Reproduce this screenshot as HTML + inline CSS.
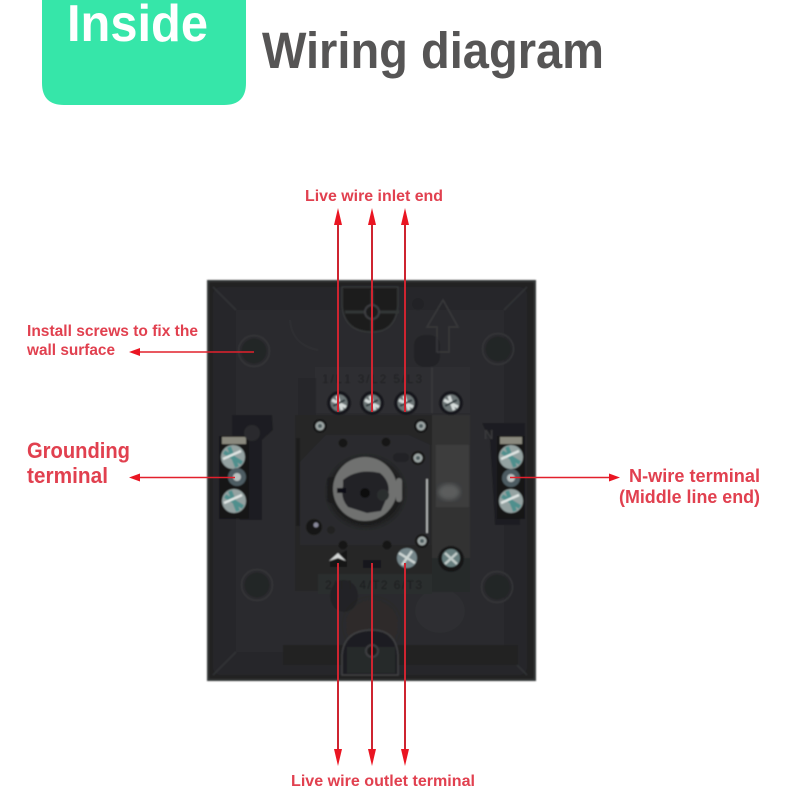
<!DOCTYPE html>
<html><head><meta charset="utf-8"><style>
html,body{margin:0;padding:0;background:#fff}
svg{display:block}
text{font-family:"Liberation Sans",sans-serif;font-weight:bold}
.r{fill:#e1404f}
</style></head><body>
<svg width="800" height="800" viewBox="0 0 800 800" xmlns="http://www.w3.org/2000/svg">
<defs>
<filter id="b"><feGaussianBlur stdDeviation="0.7"/></filter>
<filter id="b2"><feGaussianBlur stdDeviation="2"/></filter>
<filter id="t"><feGaussianBlur stdDeviation="0.3"/></filter>
<g id="s"><circle r="12" fill="#17181a"/><circle r="8.500" fill="#6d7677"/><path d="M-7-3L7 4M-2-7L3 7" stroke="#d5dbda" stroke-width="3"/><path d="M-6 3L6-3" stroke="#2e3a3c" stroke-width="2"/></g>
<g id="m"><circle r="7" fill="#131415"/><circle r="4.500" fill="#9da6a5"/><circle r="2" fill="#4f5d5f"/></g>
<g id="T"><circle r="12" fill="#94a2a1"/><path d="M-9-5L9 6M-4-10L4 10" stroke="#4f8f8d" stroke-width="4"/><path d="M-10 2L8-6" stroke="#dfe5e3" stroke-width="2.500"/></g>
<g id="h"><circle r="15.500" fill="none" stroke="#343537" stroke-width="1.500"/><circle r="12.500" fill="#242527"/></g>
</defs>

<rect width="800" height="800" fill="#fff"/>
<path d="M42 0H246V83Q246 105 224 105H64Q42 105 42 83Z" fill="#36e6a9"/>
<text x="67" y="41" font-size="52" fill="#fff" textLength="141" lengthAdjust="spacingAndGlyphs" filter="url(#t)">Inside</text>
<text x="262" y="68" font-size="51" fill="#565555" textLength="342" lengthAdjust="spacingAndGlyphs" filter="url(#t)">Wiring diagram</text>

<!-- housing -->
<g filter="url(#b)">
<rect x="207" y="280" width="329" height="401" fill="#333436"/>
<rect x="209" y="282" width="325" height="397" rx="2" fill="#202123"/>
<rect x="213" y="287" width="314" height="388" rx="8" fill="#27282a"/>
<rect x="236" y="310" width="268" height="342" fill="#2a2b2d"/>
<path d="M213 287L236 310M527 287L504 310M213 675L236 652M527 675L504 652" stroke="#333436" stroke-width="1.500"/>
<rect x="283" y="645" width="235" height="20" fill="#212224"/>
<!-- top notch -->
<path d="M342 287V305Q344 332 372 332Q396 332 398 305V287Z" fill="#1c1d1f" stroke="#363739" stroke-width="1.500"/>
<path d="M345 312H399M372 290V331" stroke="#333436" stroke-width="3"/>
<circle cx="372" cy="312" r="7" fill="#1c1d1f" stroke="#3c3d40" stroke-width="2"/>
<!-- bottom notch -->
<ellipse cx="372" cy="625" rx="26" ry="25" fill="#2f2c2b" filter="url(#b2)"/>
<path d="M342 675V655Q344 630 372 630Q396 630 398 655V675Z" fill="#1e1f21" stroke="#404143" stroke-width="1.500"/>
<rect x="347" y="647" width="48" height="26" fill="#28292b"/>
<circle cx="372" cy="651" r="6" fill="#1c1d1f" stroke="#3c3d40" stroke-width="2"/>
<!-- holes -->
<use href="#h" x="254" y="351"/><use href="#h" x="498" y="349"/>
<use href="#h" x="257" y="585"/><use href="#h" x="497" y="587"/>
<circle cx="418" cy="304" r="6" fill="#232426"/>
<path d="M290 320Q292 345 318 350" fill="none" stroke="#333436"/>
<rect x="414" y="335" width="26" height="32" rx="10" fill="#232426"/>
<path d="M443 300L427 327H437V352H449V327H458Z" fill="none" stroke="#38393b" stroke-width="1.500"/>
<ellipse cx="440" cy="611" rx="25" ry="22" fill="#2d2e30"/>
<!-- upper plate -->
<rect x="315" y="367" width="155" height="46" fill="#2e2f31"/>
<rect x="298" y="378" width="18" height="40" fill="#27282a"/>
<path d="M432 367V413" stroke="#3d3e40"/>
<text x="322" y="383" font-size="12" fill="#1e1f20" textLength="100" style="font-weight:normal">1/L1 3/L2 5/L3</text>
<!-- central plate -->
<rect x="295" y="415" width="175" height="176" fill="#252628"/>
<rect x="432" y="415" width="38" height="177" fill="#303133"/>
<rect x="436" y="445" width="33" height="62" fill="#3c3d3e"/>
<ellipse cx="449" cy="492" rx="11" ry="8" fill="#5c5d5d" filter="url(#b2)"/>
<rect x="432" y="558" width="38" height="34" fill="#28292b"/>
<path d="M300 462L326 435H408L430 445V545H300Z" fill="#2b2c2e"/>
<rect x="296" y="438" width="4" height="88" fill="#1c1d1f"/>
<path d="M427 479V533" stroke="#c9cbca" stroke-width="1.500"/>
<rect x="318" y="574" width="114" height="20" fill="#2c2d2f"/>
<text x="325" y="589" font-size="12" fill="#191a1b" textLength="97" style="font-weight:normal">2/T1 4/T2 6/T3</text>
<ellipse cx="344" cy="596" rx="14" ry="16" fill="#212223" opacity=".8"/>
<circle cx="343" cy="443" r="4.500" fill="#161718"/><circle cx="386" cy="442" r="4.500" fill="#161718"/>
<circle cx="343" cy="545" r="4.500" fill="#161718"/><circle cx="387" cy="545" r="4.500" fill="#161718"/>
<rect x="393" y="453" width="16" height="9" rx="4" fill="#232425"/>
<circle cx="331" cy="530" r="4" fill="#212223"/>
<!-- knob -->
<rect x="327" y="477" width="20" height="26" rx="3" fill="#1d1e20"/>
<ellipse cx="366" cy="492" rx="38" ry="35" fill="#1a1b1d" filter="url(#b2)"/>
<ellipse cx="365" cy="489" rx="32" ry="32" fill="#6f7170"/>
<rect x="396" y="478" width="6" height="24" rx="3" fill="#6f7170"/>
<path d="M343 480Q358 468 380 473Q391 482 388 495L381 511L367 513L348 507Q340 498 343 486Z" fill="#232426"/>
<rect x="337" y="488" width="9" height="5" fill="#101112"/>
<circle cx="365" cy="493" r="5" fill="#0f1011"/>
<circle cx="383" cy="495" r="6" fill="#2c2d2f"/>
<!-- top screws -->
<use href="#s" x="339" y="403"/><use href="#s" x="372" y="403"/><use href="#s" x="406" y="403"/><use href="#s" x="451" y="403"/>
<use href="#m" x="320" y="426"/><use href="#m" x="421" y="426"/><use href="#m" x="418" y="458"/>
<circle cx="314" cy="527" r="8" fill="#121314"/><circle cx="316" cy="525" r="2.500" fill="#889"/>
<use href="#m" x="422" y="541"/>
<!-- bottom screws -->
<path d="M330 560L347 550V567H330Z" fill="#141516"/>
<path d="M329 561L338 553L346 561L338 558Z" fill="#d5d8d7"/>
<rect x="363" y="560" width="18" height="8" fill="#18191a"/>
<circle cx="407" cy="558" r="10" fill="#75868a"/><path d="M399 553L415 563M402 565L412 551" stroke="#cdd5d3" stroke-width="2.500"/>
<circle cx="451" cy="559" r="13" fill="#141516"/><circle cx="451" cy="558" r="9" fill="#667e7e"/><path d="M445 553L457 564M445 564L457 553" stroke="#c0cac8" stroke-width="2.500"/>
<!-- left terminal -->
<path d="M232 415H272L273 430L262 440V520H240L232 440Z" fill="#1d1e20"/>
<rect x="219" y="436" width="30" height="83" fill="#161718"/>
<rect x="222" y="437" width="24" height="7" fill="#8a897e"/>
<use href="#T" x="233" y="457"/>
<circle cx="237" cy="477" r="9" fill="#4d5c62"/><circle cx="237" cy="477" r="4" fill="#b8c0bf"/>
<use href="#T" x="234" y="501"/>
<circle cx="252" cy="433" r="8" fill="#2a2b2d"/>
<!-- right terminal -->
<path d="M482 423H525V440L520 525H495L490 440Z" fill="#1d1e20"/>
<rect x="497" y="436" width="28" height="83" fill="#161718"/>
<rect x="500" y="437" width="22" height="7" fill="#8a897e"/>
<use href="#T" x="511" y="457"/>
<circle cx="511" cy="478" r="9" fill="#4d5c62"/><circle cx="511" cy="478" r="4" fill="#b8c0bf"/>
<use href="#T" x="511" y="501"/>
<text x="484" y="439" font-size="13" fill="#38393b">N</text>
</g>

<!-- connectors -->
<g stroke="#ce2430" stroke-width="2" fill="none">
<path d="M338 222V412M372 222V412M405 222V412"/>
<path d="M338 563V752M372 563V752M405 563V752"/>
</g>
<g stroke="#e2202c" stroke-width="1.600" fill="none">
<path d="M138 352H254M138 477.500H235M510 477.500H612"/>
</g>
<g fill="#ea1522">
<path d="M338 208L334 225H342Z"/><path d="M372 208L368 225H376Z"/><path d="M405 208L401 225H409Z"/>
<path d="M338 766L334 749H342Z"/><path d="M372 766L368 749H376Z"/><path d="M405 766L401 749H409Z"/>
<path d="M129 352L140 348V356Z"/><path d="M129 477.500L140 473.500V481.500Z"/><path d="M620 477.500L609 473.500V481.500Z"/>
</g>

<!-- labels -->
<g class="r" filter="url(#t)">
<text x="305" y="201" font-size="16" textLength="138" lengthAdjust="spacingAndGlyphs">Live wire inlet end</text>
<text x="27" y="336" font-size="16" textLength="171" lengthAdjust="spacingAndGlyphs">Install screws to fix the</text>
<text x="27" y="355" font-size="16" textLength="88" lengthAdjust="spacingAndGlyphs">wall surface</text>
<text x="27" y="458" font-size="22" textLength="103" lengthAdjust="spacingAndGlyphs">Grounding</text>
<text x="27" y="483" font-size="22" textLength="81" lengthAdjust="spacingAndGlyphs">terminal</text>
<text x="629" y="482" font-size="18" textLength="131" lengthAdjust="spacingAndGlyphs">N-wire terminal</text>
<text x="619" y="503" font-size="18" textLength="141" lengthAdjust="spacingAndGlyphs">(Middle line end)</text>
<text x="291" y="786" font-size="16" textLength="184" lengthAdjust="spacingAndGlyphs">Live wire outlet terminal</text>
</g>
</svg>
</body></html>
